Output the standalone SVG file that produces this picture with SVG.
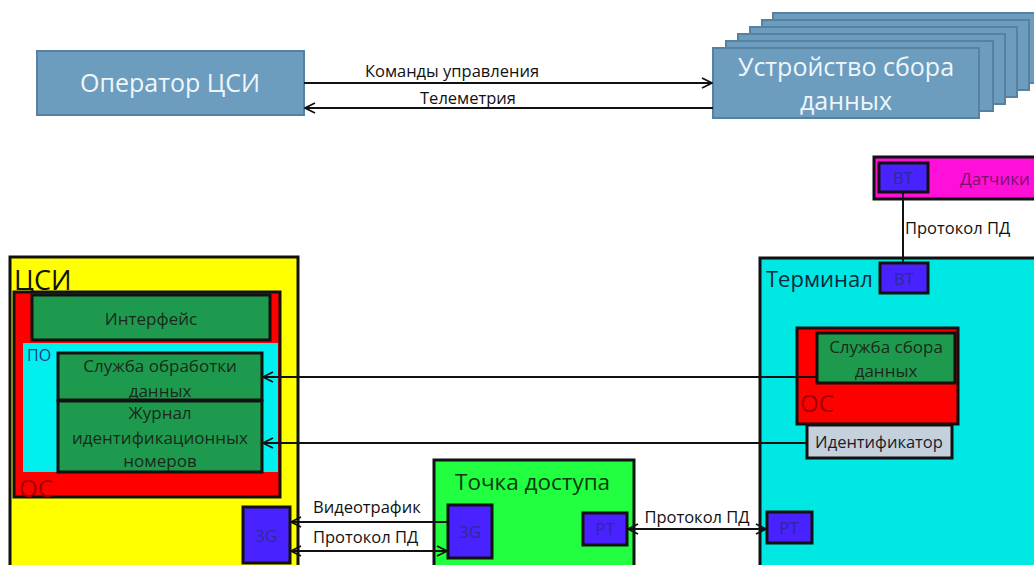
<svg xmlns="http://www.w3.org/2000/svg" width="1034" height="565" viewBox="0 0 1034 565">
<defs>
<marker id="arr" viewBox="0 0 12 12" refX="11" refY="6" markerWidth="12" markerHeight="12" markerUnits="userSpaceOnUse" orient="auto-start-reverse">
<path d="M1,1 L11,6 L1,11" fill="none" stroke="#111" stroke-width="1.8"/>
</marker>
</defs>
<style>
text{font-family:"Open Sans","Liberation Sans",sans-serif}
.blue{fill:#6c9dbf;stroke:#56819f;stroke-width:2}
.wt{fill:#eef6fa;font-size:25px}
.b{stroke:#111;stroke-width:3}
.port{fill:#4a22ff;stroke:#111;stroke-width:3}
.pt{fill:#2a2a9a;font-size:17px;text-anchor:middle}
.gt{fill:#1a2a1a;font-size:17px;text-anchor:middle}
.lbl{fill:#111;font-size:16.5px}
.c{stroke:#111;stroke-width:2;fill:none}
</style>
<g id="operator">
<rect class="blue" x="37" y="51" width="267" height="64"/>
<text class="wt" x="170" y="92" text-anchor="middle">Оператор ЦСИ</text>
</g>
<g id="device">
<rect class="blue" x="773" y="13" width="267" height="70"/>
<rect class="blue" x="762" y="20" width="267" height="70"/>
<rect class="blue" x="750" y="27" width="267" height="70"/>
<rect class="blue" x="738" y="34" width="267" height="70"/>
<rect class="blue" x="726" y="41" width="267" height="70"/>
<rect class="blue" x="713" y="48" width="266" height="70"/>
<text class="wt" x="846" y="76" text-anchor="middle">Устройство сбора</text>
<text class="wt" x="846" y="110" text-anchor="middle">данных</text>
</g>
<g id="sensors">
<rect x="874" y="157" width="170" height="42" fill="#ff10d8" class="b"/>
<rect class="port" x="879" y="163" width="49" height="29"/>
<text class="pt" x="903" y="184">BT</text>
<text x="960" y="185" fill="#7a1070" font-size="17">Датчики</text>
</g>
<g id="csi">
<rect x="10" y="257" width="288" height="320" fill="#ffff00" class="b"/>
<text x="14" y="290" font-size="27" fill="#111">ЦСИ</text>
<rect x="14" y="292" width="266" height="205" fill="#ff0000" class="b"/>
<rect x="32" y="295" width="238" height="45" fill="#1e9a4e" class="b"/>
<text class="gt" x="151" y="325">Интерфейс</text>
<rect x="23" y="343" width="255" height="129" fill="#00f0f0"/>
<text x="27" y="361" font-size="16" fill="#1a3a8a">ПО</text>
<rect x="58" y="353" width="204" height="47" fill="#1e9a4e" class="b"/>
<text class="gt" x="160" y="372">Служба обработки</text>
<text class="gt" x="160" y="397">данных</text>
<rect x="58" y="401" width="204" height="71" fill="#1e9a4e" class="b"/>
<text class="gt" x="160" y="419">Журнал</text>
<text class="gt" x="160" y="444">идентификационных</text>
<text class="gt" x="160" y="467">номеров</text>
<text x="19" y="497" font-size="24" fill="#a00000">ОС</text>
<rect class="port" x="243" y="507" width="47" height="56"/>
<text class="pt" x="266" y="542">3G</text>
</g>
<g id="access-point">
<rect x="434" y="460" width="200" height="120" fill="#22ff40" class="b"/>
<text x="455" y="490" font-size="22.5" fill="#0a3a0a">Точка доступа</text>
<rect class="port" x="448" y="505" width="44" height="53"/>
<text class="pt" x="470" y="538">3G</text>
<rect class="port" x="583" y="513" width="44" height="32"/>
<text class="pt" x="605" y="535">PT</text>
</g>
<g id="terminal">
<rect x="760" y="258" width="290" height="320" fill="#00e8e4" class="b"/>
<text x="766" y="287" font-size="22" fill="#0a2a3a">Терминал</text>
<rect class="port" x="880" y="263" width="48" height="30"/>
<text class="pt" x="904" y="285">BT</text>
<rect x="797" y="328" width="161" height="96" fill="#ff0000" class="b"/>
<rect x="817" y="333" width="138" height="50" fill="#1e9a4e" class="b"/>
<text class="gt" x="886" y="353">Служба сбора</text>
<text class="gt" x="886" y="377">данных</text>
<text x="800" y="412" font-size="24" fill="#a00000">ОС</text>
<rect x="807" y="425" width="145" height="33" fill="#c4d0dc" class="b"/>
<text x="879" y="448" font-size="16.5" fill="#1a1a2a" text-anchor="middle">Идентификатор</text>
<rect class="port" x="767" y="512" width="45" height="31"/>
<text class="pt" x="789" y="534">PT</text>
</g>
<g id="connectors">
<line class="c" x1="304" y1="83" x2="712" y2="83" marker-end="url(#arr)"/>
<text class="lbl" x="452" y="77" text-anchor="middle">Команды управления</text>
<line class="c" x1="305" y1="108" x2="713" y2="108" marker-start="url(#arr)"/>
<text class="lbl" x="468" y="104" text-anchor="middle">Телеметрия</text>
<line class="c" x1="903" y1="192" x2="903" y2="263"/>
<text class="lbl" x="905" y="234">Протокол ПД</text>
<line class="c" x1="817" y1="377" x2="263" y2="377" marker-end="url(#arr)"/>
<line class="c" x1="807" y1="443" x2="263" y2="443" marker-end="url(#arr)"/>
<line class="c" x1="448" y1="522" x2="291" y2="522" marker-end="url(#arr)"/>
<text class="lbl" x="313" y="513">Видеотрафик</text>
<line class="c" x1="291" y1="551" x2="447" y2="551" marker-start="url(#arr)" marker-end="url(#arr)"/>
<text class="lbl" x="313" y="543">Протокол ПД</text>
<line class="c" x1="628" y1="529" x2="766" y2="529" marker-start="url(#arr)" marker-end="url(#arr)"/>
<text class="lbl" x="697" y="523" text-anchor="middle">Протокол ПД</text>
</g>
</svg>
